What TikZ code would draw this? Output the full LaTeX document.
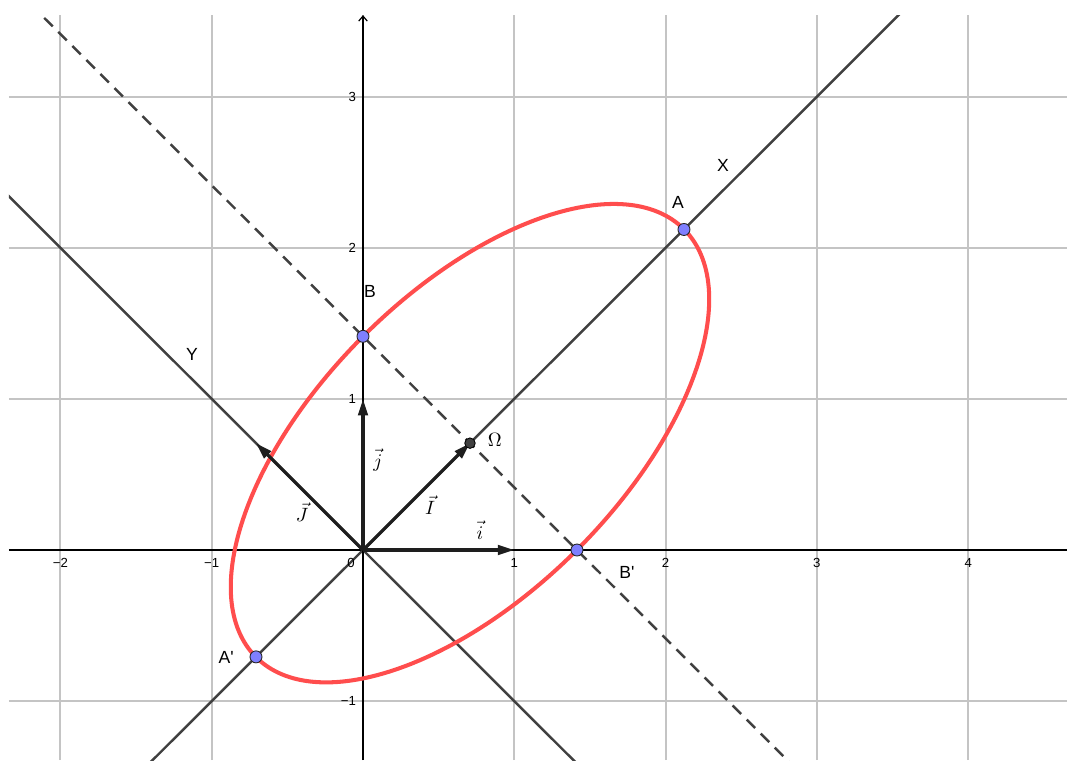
\documentclass[tikz,border=0pt]{standalone}
\usepackage[no-math]{fontspec}
\setmainfont{Liberation Sans}
\newfontfamily\lsans{Liberation Sans}
\usetikzlibrary{arrows.meta}
\definecolor{gridc}{HTML}{C4C4C4}
\definecolor{linec}{HTML}{404040}
\definecolor{vecc}{HTML}{1E1E1E}
\definecolor{ellc}{HTML}{FF4D4D}
\definecolor{ptc}{HTML}{7F7FFF}
\begin{document}
\begin{tikzpicture}[x=3.026cm,y=3.022cm,
  gridln/.style={gridc, line width=1.1pt},
  axisln/.style={black, line width=0.7pt},
  ln/.style={linec, line width=1.4pt},
  dashln/.style={ln, dash pattern=on 6.8pt off 4.5pt},
  vecln/.style={vecc, line width=1.8pt, -{Triangle[length=3.3mm,width=1.9mm]}},
  ell/.style={ellc, line width=2.3pt},
  pt/.style={circle, fill=ptc, draw=black!85, line width=0.5pt, inner sep=0pt, minimum size=2.4mm},
  ptom/.style={circle, fill=linec, draw=black, line width=0.5pt, inner sep=0pt, minimum size=2.1mm},
  num/.style={font=\lsans\fontsize{7.5}{9}\selectfont, inner sep=0pt},
  lab/.style={font=\lsans\fontsize{10}{12}\selectfont, inner sep=0pt},
  mlab/.style={font=\fontsize{11}{13}\selectfont, inner sep=0pt}
]
\useasboundingbox (-2.3992,-1.3898) rectangle (4.653,3.640);
% named coordinates
\coordinate (O) at (0,0);
\coordinate (Om) at (0.7071,0.7071);
\coordinate (Ai) at (1,0);
\coordinate (Aj) at (0,1);
\coordinate (AJ) at (-0.7071,0.7071);
\coordinate (Xlo) at (-1.45,-1.45);
\coordinate (Xhi) at (3.6,3.6);
\coordinate (Ylo) at (1.45,-1.45);
\coordinate (Yhi) at (-2.4,2.4);
\coordinate (Dhi) at (-2.2,3.6142);
\coordinate (Dlo) at (2.85,-1.4358);
\coordinate (Xaxl) at (-2.34,0);
\coordinate (Xaxr) at (4.653,0);
\coordinate (Yaxb) at (0,-1.3898);
\coordinate (Yaxt) at (0,3.54);
\begin{scope}
\clip (-2.34,-1.3898) rectangle (4.653,3.54);
\foreach \k in {-2,...,4} \draw[gridln] (\k,-1.3898) -- (\k,3.54);
\foreach \k in {-1,...,3} \draw[gridln] (-2.34,\k) -- (4.653,\k);
\draw[axisln] (Xaxl) -- (Xaxr);
\draw[ln] (Xlo) -- (Xhi);
\draw[ln] (Yhi) -- (Ylo);
\draw[dashln] (Dhi) -- (Dlo);
\end{scope}
\draw[axisln, -{Straight Barb[length=1mm,width=1.7mm]}] (Yaxb) -- (Yaxt);
% axis numbers
\foreach \k/\t in {-2/−2,-1/−1,1/1,2/2,3/3,4/4}
  \node[num] (nx\k) at (\k,-0.086) {\t};
\node[num] (n0) at (-0.079,-0.086) {0};
\foreach \k/\t in {-1/−1,1/1,2/2,3/3}
  \node[num, anchor=east] (ny\k) at (-0.045,\k) {\t};
% ellipse
\draw[ell, rotate around={45:(Om)}] (Om) ellipse (2 and 1);
% vectors
\draw[vecln] (O) -- (Ai);
\draw[vecln] (O) -- (Aj);
\draw[vecln] (O) -- (Om);
\draw[vecln] (O) -- (AJ);
% points
\node[pt] (A) at (2.1213,2.1213) {};
\node[pt] (A2) at (-0.7071,-0.7071) {};
\node[pt] (B) at (0,1.4142) {};
\node[pt] (B2) at (1.4142,0) {};
\node[ptom] (Omp) at (Om) {};
% labels
\node[lab] (lA) at (2.082,2.297) {A};
\node[lab] (lX) at (2.379,2.548) {X};
\node[lab] (lB) at (0.046,1.714) {B};
\node[lab] (lY) at (-1.130,1.291) {Y};
\node[lab] (lB2) at (1.745,-0.146) {B'};
\node[lab] (lA2) at (-0.905,-0.708) {A'};
\node[mlab] (lOm) at (0.872,0.728) {$\mathrm{\Omega}$};
\node[mlab] (lj) at (0.099,0.596) {$\vec{j}$};
\node[mlab] (lJ) at (-0.403,0.251) {$\vec{J}$};
\node[mlab] (lI) at (0.443,0.298) {$\vec{I}$};
\node[mlab] (li) at (0.773,0.132) {$\vec{i}$};
\end{tikzpicture}
\end{document}
